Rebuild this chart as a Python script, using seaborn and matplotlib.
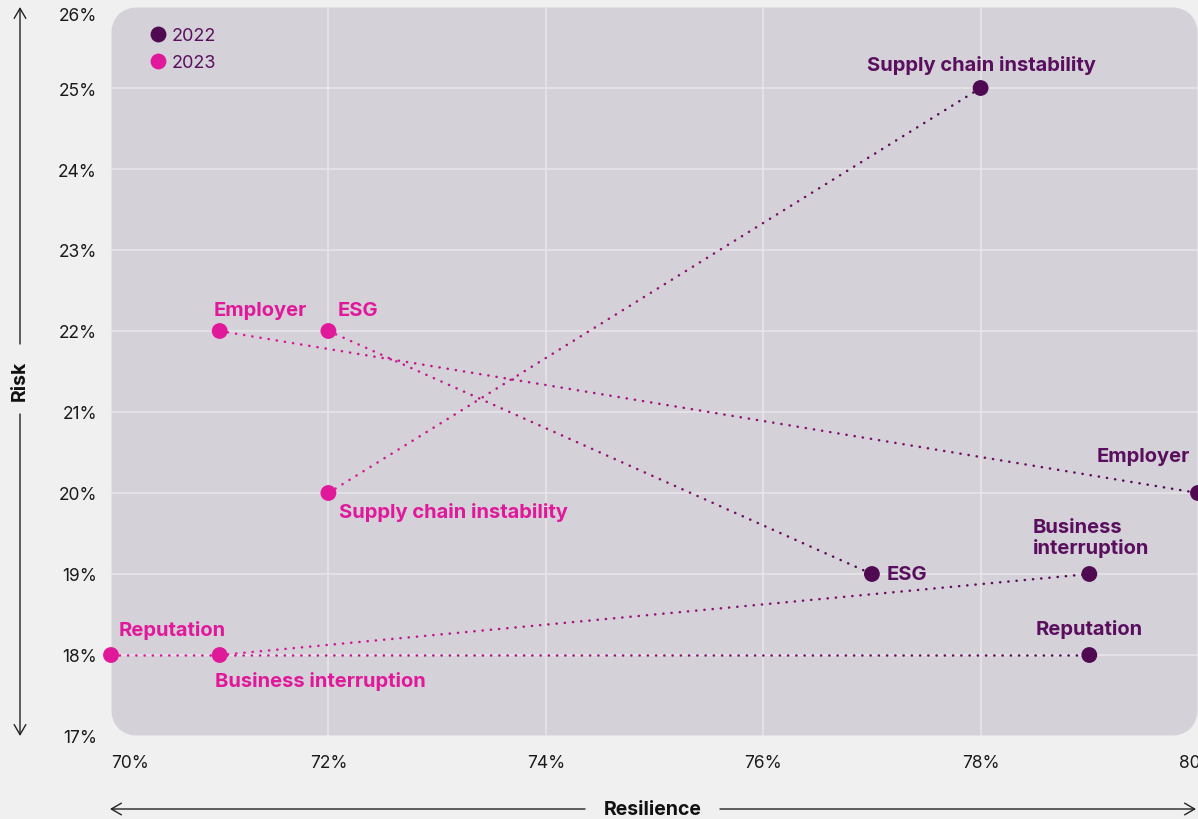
import numpy as np
import pandas as pd
import matplotlib
matplotlib.use("Agg")
import matplotlib.pyplot as plt
from matplotlib.patches import FancyBboxPatch, Rectangle
from matplotlib.colors import to_rgb
import seaborn as sns

# ---- data -------------------------------------------------------------
categories = ["Supply chain instability", "Employer", "ESG",
              "Business interruption", "Reputation"]
resilience_2022 = [78, 80, 77, 79, 79]
risk_2022 = [25, 20, 19, 19, 18]
resilience_2023 = [72, 71, 72, 71, 70]
risk_2023 = [20, 22, 22, 18, 18]
years = ["2022", "2023"]
x_ticks = [70, 72, 74, 76, 78, 80]
y_ticks = [17, 18, 19, 20, 21, 22, 23, 24, 25, 26]

# label placement (offset in pixels, alignment) per year and category
labels_2022 = {
    "Supply chain instability": ((1, 24), "center", "center"),
    "Employer": ((-8, 37), "right", "center"),
    "ESG": ((15, 0), "left", "center"),
    "Business interruption": ((2, 17), "center", "bottom"),
    "Reputation": ((0, 26), "center", "center"),
}
labels_2023 = {
    "Supply chain instability": ((11, -19), "left", "center"),
    "Employer": ((-6, 21), "left", "center"),
    "ESG": ((9, 21), "left", "center"),
    "Business interruption": ((-5, -26), "left", "center"),
    "Reputation": ((8, 25), "left", "center"),
}

C22 = "#4f0a52"
C23 = "#e0199b"
TXT22 = "#5a0f5e"
BG = "#f0f0f0"
PANEL = "#d5d1d8"
GRID = "#e9e7eb"

df = pd.DataFrame({
    "category": categories * 2,
    "resilience": resilience_2022 + resilience_2023,
    "risk": risk_2022 + risk_2023,
    "year": [years[0]] * 5 + [years[1]] * 5,
})

sns.set_theme(style="white")
plt.rcParams["font.family"] = ["Inter", "DejaVu Sans"]

W, H = 1198, 820
fig = plt.figure(figsize=(W / 100, H / 100), dpi=100, facecolor=BG)
ax = fig.add_axes([111 / W, 83 / H, 1087 / W, 729 / H])
ax.set_facecolor("none")
ax.set_xlim(70, 80)
ax.set_ylim(17, 26)

# rounded panel behind the plot
aw, ah = 1087, 729
panel = FancyBboxPatch((0, 0), 1, 1, boxstyle="round,pad=0,rounding_size=%f" % (30 / aw),
                       mutation_aspect=aw / ah, transform=ax.transAxes,
                       facecolor=PANEL, edgecolor="none", zorder=0, clip_on=False)
ax.add_patch(panel)

ax.set_xticks(x_ticks)
ax.set_yticks(y_ticks)
ax.set_xticklabels([f"{v}%" for v in x_ticks])
ax.set_yticklabels([f"{v}%" for v in y_ticks])
ax.grid(True, color=GRID, lw=1.1)
ax.set_axisbelow(True)
for gl in ax.get_xgridlines() + ax.get_ygridlines():
    gl.set_clip_path(panel)
for s in ax.spines.values():
    s.set_visible(False)
ax.tick_params(axis="both", length=0, labelsize=12.5, labelcolor="#1a1a1a")
ax.tick_params(axis="y", pad=10)
ax.tick_params(axis="x", pad=13)
ax.get_xticklabels()[0].set_horizontalalignment("left")
top_lbl = ax.get_yticklabels()[-1]
top_lbl.set_verticalalignment("top")
top_lbl.set_y(25.96)

# gradient dotted connectors: copies of the full line, each clipped to an x band
c0, c1 = np.array(to_rgb(C23)), np.array(to_rgb(C22))
nb = 24
for i in range(len(categories)):
    xa, xb = resilience_2023[i], resilience_2022[i]
    ya, yb = risk_2023[i], risk_2022[i]
    edges = np.linspace(xa, xb, nb + 1)
    for k in range(nb):
        t = (k + 0.5) / nb
        col = c0 * (1 - t) + c1 * t
        ln, = ax.plot([xa, xb], [ya, yb], color=col, lw=1.8,
                      linestyle=(0, (0.1, 3.2)), dash_capstyle="round", zorder=2)
        lo, hi = sorted([edges[k], edges[k + 1]])
        clip = Rectangle((lo, 10), hi - lo, 30, transform=ax.transData)
        ln.set_clip_path(clip)

sns.scatterplot(data=df, x="resilience", y="risk", hue="year",
                palette={"2022": C22, "2023": C23}, s=130, linewidth=0,
                ax=ax, zorder=3, clip_on=False)
ax.set_xlabel("")
ax.set_ylabel("")

leg = ax.legend(loc="upper left", bbox_to_anchor=(26 / aw, 1 - 13 / ah), frameon=False,
                fontsize=13, handletextpad=0.0, labelspacing=0.55, borderaxespad=0,
                markerscale=1.0, handlelength=1.5)
for t in leg.get_texts():
    t.set_color(TXT22)

# point labels
for year_lbl, xs, ys, spec, col in [
    ("2022", resilience_2022, risk_2022, labels_2022, TXT22),
    ("2023", resilience_2023, risk_2023, labels_2023, C23),
]:
    for cat, x, y in zip(categories, xs, ys):
        (dx, dy), ha, va = spec[cat]
        text = cat
        if year_lbl == "2022" and cat == "Business interruption":
            text = "Business\ninterruption"
        ax.annotate(text, (x, y), xytext=(dx * 0.72, dy * 0.72), textcoords="offset points",
                    ha=ha, va=va, multialignment="left", fontsize=14.5, fontweight="bold",
                    color=col, linespacing=1.15, zorder=4, annotation_clip=False)

# axis arrows with titles, in figure pixel coordinates
ov = fig.add_axes([0, 0, 1, 1], facecolor="none")
ov.set_xlim(0, W)
ov.set_ylim(H, 0)
ov.axis("off")
arrow = dict(arrowstyle="->,head_length=0.6,head_width=0.35", lw=1.0, color="#222222",
             shrinkA=0, shrinkB=0)
ov.annotate("", xy=(20, 8), xytext=(20, 345), arrowprops=arrow)
ov.annotate("", xy=(20, 737), xytext=(20, 415), arrowprops=arrow)
ov.text(20, 381, "Risk", rotation=90, ha="center", va="center",
        fontsize=14, fontweight="bold", color="#111111")
ov.annotate("", xy=(110, 810), xytext=(585, 810), arrowprops=arrow)
ov.annotate("", xy=(1196, 810), xytext=(720, 810), arrowprops=arrow)
ov.text(653, 810, "Resilience", ha="center", va="center",
        fontsize=14, fontweight="bold", color="#111111")

fig.savefig("out.png", dpi=100, facecolor=BG)
